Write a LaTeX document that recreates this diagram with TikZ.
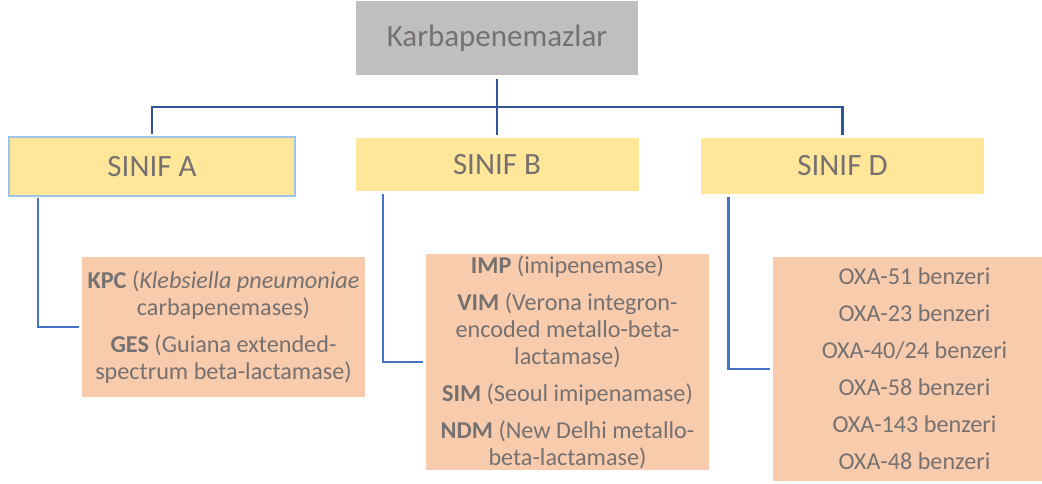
\documentclass[tikz,border=0pt]{standalone}
\usepackage{fontspec}
\setmainfont{Carlito}
\usetikzlibrary{positioning}

\definecolor{txtgray}{HTML}{767171}
\definecolor{topgray}{HTML}{BFBFBF}
\definecolor{clsyellow}{HTML}{FFE699}
\definecolor{enzpeach}{HTML}{F8CBAD}
\definecolor{busblue}{HTML}{2F5597}
\definecolor{linkblue}{HTML}{4472C4}
\definecolor{edgeblue}{HTML}{9DC3E6}

\begin{document}
\begin{tikzpicture}[
    x=1pt, y=-1pt,
    every node/.style={inner sep=0pt, text=txtgray},
    head/.style={fill=topgray, minimum width=282pt, minimum height=74pt,
        font=\fontsize{31}{37}\selectfont},
    cls/.style={fill=clsyellow, minimum width=283pt,
        font=\fontsize{31}{37}\selectfont},
    enz/.style={fill=enzpeach, minimum width=283pt, align=center,
        font=\fontsize{24.2}{27}\selectfont},
    bus/.style={draw=busblue, line width=2.8pt},
    link/.style={draw=linkblue, line width=2.8pt, shorten >=3pt}
]
\useasboundingbox (0,0) rectangle (1042,484);

\node[head] (karb) at (497,38) {Karbapenemazlar};

\node[cls, minimum width=286pt, minimum height=59pt, draw=edgeblue, line width=2pt]
    (sA) at (152,166.5) {SINIF A};
\node[cls, minimum height=53pt] (sB) at (497,164.5) {SINIF B};
\node[cls, minimum height=56pt] (sD) at (842.5,166) {SINIF D};

\node[enz, minimum height=140pt] (kpc) at (223.5,327)
    {\textbf{KPC} (\textit{Klebsiella pneumoniae}\\
     carbapenemases)\\[10pt]
     \textbf{GES} (Guiana extended-\\
     spectrum beta-lactamase)};
\node[enz, minimum height=216pt] (imp) at (567.5,362)
    {\textbf{IMP} (imipenemase)\\[10pt]
     \textbf{VIM} (Verona integron-\\
     encoded metallo-beta-\\
     lactamase)\\[10pt]
     \textbf{SIM} (Seoul imipenamase)\\[10pt]
     \textbf{NDM} (New Delhi metallo-\\
     beta-lactamase)};
\node[enz, minimum height=224pt] (oxa) at (914.5,369)
    {OXA-51 benzeri\\[10pt]
     OXA-23 benzeri\\[10pt]
     OXA-40/24 benzeri\\[10pt]
     OXA-58 benzeri\\[10pt]
     OXA-143 benzeri\\[10pt]
     OXA-48 benzeri};

\coordinate (mid) at (497,107);

\draw[bus, shorten <=4pt, shorten >=3pt] (karb) -- (sB);
\draw[bus, shorten <=2pt, shorten >=3pt] (sA.north) |- (mid) -| (sD.north);

\draw[link, shorten <=1pt] ([xshift=-114pt]sA.south) |- (kpc.west);
\draw[link, shorten <=3pt] ([xshift=-114pt]sB.south) |- (imp.west);
\draw[link, shorten <=3pt] ([xshift=-114pt]sD.south) |- (oxa.west);

\end{tikzpicture}
\end{document}
